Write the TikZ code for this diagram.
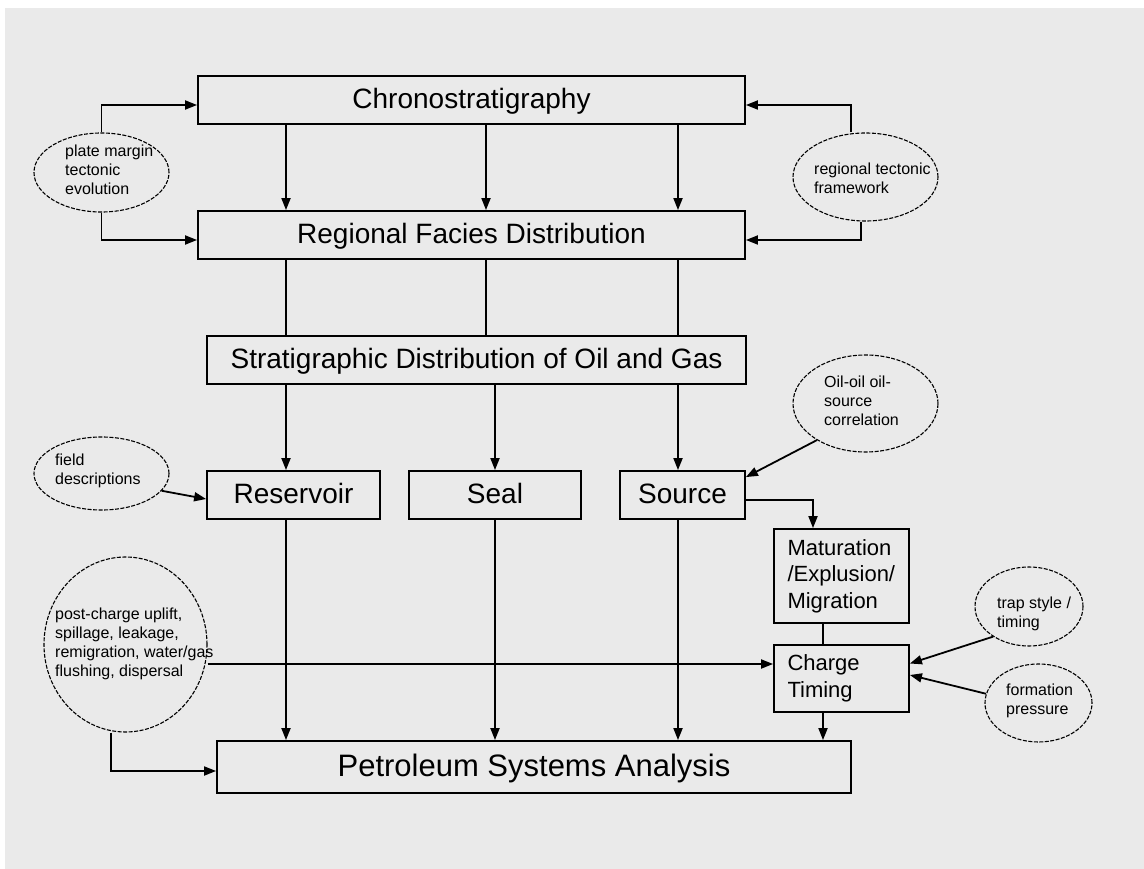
\documentclass[tikz,border=0pt]{standalone}
\usepackage{fontspec}
\setmainfont{Liberation Sans}
\usetikzlibrary{arrows.meta,shapes.geometric}
\definecolor{bg}{HTML}{EAEAEA}
\tikzset{
  box/.style={draw=black, line width=1.8pt, inner sep=0pt, align=center},
  big/.style={font=\fontsize{28}{34}\selectfont, text height=20pt, text depth=3pt},
  huge/.style={font=\fontsize{31}{37}\selectfont, text height=22pt, text depth=4pt},
  midtxt/.style={font=\fontsize{22}{26.5}\selectfont, align=left, text width=108pt, inner xsep=13.5pt},
  ell/.style={draw=black, ellipse, dash pattern=on 4pt off 1.5pt, line width=1.1pt, inner sep=0pt},
  etxt/.style={font=\fontsize{16}{19}\selectfont, anchor=base west, align=left, inner sep=0pt},
  arr/.style={line width=1.8pt, -{Triangle[length=12pt,width=9pt]}},
  ln/.style={line width=1.8pt},
}
\begin{document}
\begin{tikzpicture}[x=1pt,y=-1pt]
\useasboundingbox (0,0) rectangle (1144,869);
\fill[white] (0,0) rectangle (1144,869);
\fill[bg] (5,8) rectangle (1144,869);

% column coordinates
\coordinate (c1) at (286,0);
\coordinate (c2) at (486,0);
\coordinate (c3) at (678,0);
\coordinate (c4) at (813,0);
\coordinate (c5) at (823,0);

% boxes
\node[box, big, minimum width=547pt, minimum height=48pt] (chrono) at (471.5,100) {Chronostratigraphy};
\node[box, big, minimum width=547pt, minimum height=48pt] (regional) at (471.5,235) {Regional Facies Distribution};
\node[box, big, minimum width=539pt, minimum height=48pt] (strat) at (476.5,360) {Stratigraphic Distribution of Oil and Gas};
\node[box, big, minimum width=173pt, minimum height=48pt] (res) at (293.5,495) {Reservoir};
\node[box, big, minimum width=172pt, minimum height=48pt] (seal) at (495,495) {Seal};
\node[box, big, minimum width=125pt, minimum height=48pt] (source) at (682.5,495) {Source};
\node[box, midtxt, minimum height=94pt] (mat) at (841.5,576) {Maturation\\/Explusion/\\Migration};
\node[box, midtxt, minimum height=67pt] (charge) at (841.5,678.5) {Charge\\Timing};
\node[box, huge, minimum width=634pt, minimum height=52pt] (pet) at (534,767) {Petroleum Systems Analysis};

% ellipses (text nodes anchored at the baseline of their last line)
\node[ell, minimum width=135pt, minimum height=79pt] (pm) at (101.5,172.5) {};
\node[etxt] at (65,195) {plate margin\\tectonic\\evolution};
\node[ell, minimum width=145pt, minimum height=88pt] (rtf) at (865.5,177) {};
\node[etxt] at (814,194) {regional tectonic\\framework};
\node[ell, minimum width=135pt, minimum height=73pt] (field) at (101.5,473.5) {};
\node[etxt] at (55,484) {field\\descriptions};
\node[ell, minimum width=145pt, minimum height=97pt] (oil) at (865.5,403.5) {};
\node[etxt] at (824,425) {Oil-oil oil-\\source\\correlation};
\node[ell, minimum width=163pt, minimum height=175pt] (pc) at (125.5,644.5) {};
\node[etxt] at (55,676) {post-charge uplift,\\spillage, leakage,\\remigration, water/gas\\flushing, dispersal};
\node[ell, minimum width=108pt, minimum height=79pt] (trap) at (1029,606.5) {};
\node[etxt] at (997,627) {trap style /\\timing};
\node[ell, minimum width=107pt, minimum height=78pt] (form) at (1038.5,703) {};
\node[etxt] at (1006,714) {formation\\pressure};

% connectors
\draw[arr] (pm.north) |- ([yshift=-5pt]chrono.west);
\draw[arr] (pm.south) |- ([yshift=-5pt]regional.west);
\draw[arr] ([xshift=-14.5pt]rtf.north) |- ([yshift=-5pt]chrono.east);
\draw[arr] ([xshift=-4.5pt]rtf.south) |- ([yshift=-5pt]regional.east);

\foreach \c in {c1,c2,c3} \draw[arr] (chrono.south -| \c) -- (regional.north -| \c);
\foreach \c in {c1,c2,c3} \draw[ln] (regional.south -| \c) -- (strat.north -| \c);

\draw[arr] (strat.south -| c1) -- (res.north -| c1);
\draw[arr] (strat.south -| seal.north) -- (seal.north);
\draw[arr] (strat.south -| c3) -- (source.north -| c3);

\draw[arr] (res.south -| c1) -- (pet.north -| c1);
\draw[arr] (seal.south) -- (pet.north -| seal.south);
\draw[arr] (source.south -| c3) -- (pet.north -| c3);

\draw[arr] ([yshift=-5pt]source.east) -| (mat.north -| c4);
\draw[ln] (mat.south -| c5) -- (charge.north -| c5);
\draw[arr] (charge.south -| c5) -- (pet.north -| c5);

\draw[arr] (field.-16) -- ([yshift=-4pt]res.west);
\draw[arr] (oil.217) -- ([yshift=-7pt]source.north east);

\coordinate (pcE) at ([yshift=-19.5pt]pc.east);
\draw[arr] (pcE) -- (pcE -| charge.west);
\draw[arr] ([xshift=-14.5pt]pc.south) |- ([yshift=-4pt]pet.west);

\draw[arr] (trap.220) -- ([yshift=15pt]charge.east);
\draw[arr] (form.170) -- ([yshift=3.5pt]charge.east);
\end{tikzpicture}
\end{document}
